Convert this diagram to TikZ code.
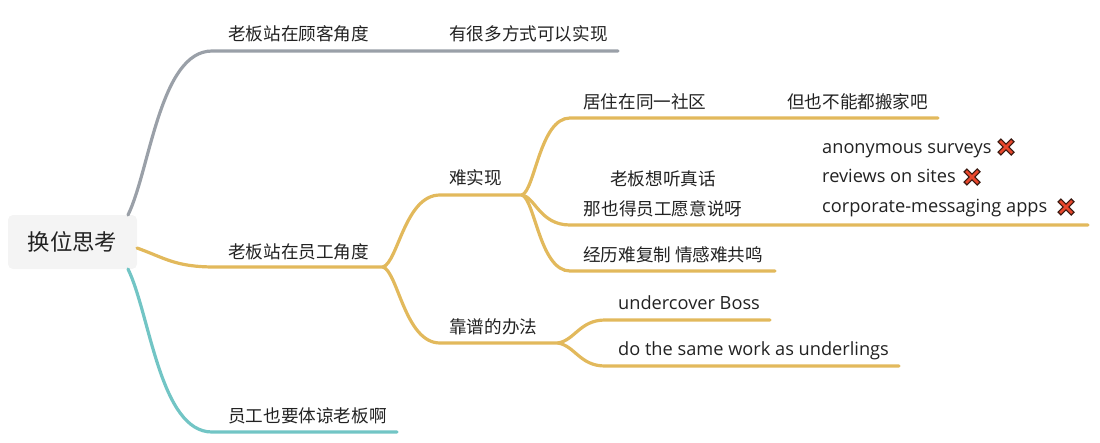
\documentclass[tikz,border=0pt]{standalone}
\usepackage{fontspec}
\setmainfont{Noto Sans CJK SC}
\newfontfamily\latinf{Open Sans}
\definecolor{graybr}{HTML}{9AA0A8}
\definecolor{orangebr}{HTML}{E2B95C}
\definecolor{tealbr}{HTML}{72C5C5}
\definecolor{rootfill}{HTML}{F4F4F4}
\definecolor{txtc}{HTML}{222222}
\definecolor{xred}{HTML}{E8472C}
\definecolor{xdark}{HTML}{3A1A12}
\begin{document}
\begin{tikzpicture}[x=1pt,y=-1pt,
  tx/.style={anchor=base west, inner sep=0pt, text=txtc, font=\fontsize{17.6}{30}\selectfont},
  ltx/.style={tx, font=\latinf\fontsize{18.2}{29.5}\selectfont},
  br/.style={line width=3.2pt, line cap=round},
  rootbox/.style={fill=rootfill, rounded corners=5pt, minimum width=129pt, minimum height=54pt, inner sep=0pt, text=txtc, font=\fontsize{22.4}{26}\selectfont},
  redx/.pic={
    \draw[line width=5pt, xdark] (-7,-7) -- (7,7) (-7,7) -- (7,-7);
    \draw[line width=2.6pt, xred] (-6,-6) -- (6,6) (-6,6) -- (6,-6);
  }]
\useasboundingbox (0,0) rectangle (1100,442);

% root
\node[rootbox] (root) at (72.5,242) {换位思考};

% text nodes
\node[tx] (n1) at (228,40) {老板站在顾客角度};
\node[tx] (n1a) at (449,40) {有很多方式可以实现};
\node[tx] (n2) at (228,258) {老板站在员工角度};
\node[tx] (n3) at (228,422) {员工也要体谅老板啊};
\node[tx] (n21) at (449,184) {难实现};
\node[tx] (n22) at (449,333) {靠谱的办法};
\node[tx] (n211) at (583,108) {居住在同一社区};
\node[tx] (n211a) at (787,108) {但也不能都搬家吧};
\node[tx, anchor=base, align=center] (n212) at (663,215) {老板想听真话\\那也得员工愿意说呀};
\node[tx] (n213) at (583,261) {经历难复制 情感难共鸣};
\node[ltx] (s1) at (822,153) {anonymous surveys};
\node[ltx] (s2) at (822,182.5) {reviews on sites};
\node[ltx] (s3) at (822,212) {corporate-messaging apps};
\node[ltx] (n221) at (618,309) {undercover Boss};
\node[ltx] (n222) at (618,355) {do the same work as underlings};

\pic at (1006,147) {redx};
\pic at (972,177) {redx};
\pic at (1066,207) {redx};

% junction coordinates
\coordinate (g0) at (128,215);
\coordinate (g1) at (212,51);
\coordinate (g3) at (618,51);
\coordinate (o0) at (137,248);
\coordinate (o1) at (215,267);
\coordinate (oJ) at (383,267);
\coordinate (t0) at (128,269);
\coordinate (t1) at (212,432);
\coordinate (t2) at (397,432);
\coordinate (a0) at (440,195);
\coordinate (aJ) at (522,195);
\coordinate (b0) at (440,343);
\coordinate (bJ) at (558,343);
\coordinate (c0) at (570,118);
\coordinate (c1) at (938,118);
\coordinate (d0) at (570,225);
\coordinate (d1) at (1088,225);
\coordinate (e0) at (570,271);
\coordinate (e1) at (775,271);
\coordinate (f0) at (605,320);
\coordinate (f1) at (770,320);
\coordinate (h0) at (605,366);
\coordinate (h1) at (899,366);

% branches
\draw[br, graybr] (g0) .. controls (150,170) and (160,51) .. (g1) -- (g3);
\draw[br, orangebr] (o0) .. controls (165,258) and (175,267) .. (o1) -- (oJ);
\draw[br, tealbr] (t0) .. controls (150,314) and (160,432) .. (t1) -- (t2);

\draw[br, orangebr] (oJ) .. controls (398,262) and (405,195) .. (a0) -- (aJ);
\draw[br, orangebr] (oJ) .. controls (398,272) and (405,343) .. (b0) -- (bJ);

\draw[br, orangebr] (aJ) .. controls (535,190) and (540,118) .. (c0) -- (c1);
\draw[br, orangebr] (aJ) .. controls (535,197) and (540,225) .. (d0) -- (d1);
\draw[br, orangebr] (aJ) .. controls (535,200) and (540,271) .. (e0) -- (e1);

\draw[br, orangebr] (bJ) .. controls (575,340) and (580,320) .. (f0) -- (f1);
\draw[br, orangebr] (bJ) .. controls (575,346) and (580,366) .. (h0) -- (h1);
\end{tikzpicture}
\end{document}
